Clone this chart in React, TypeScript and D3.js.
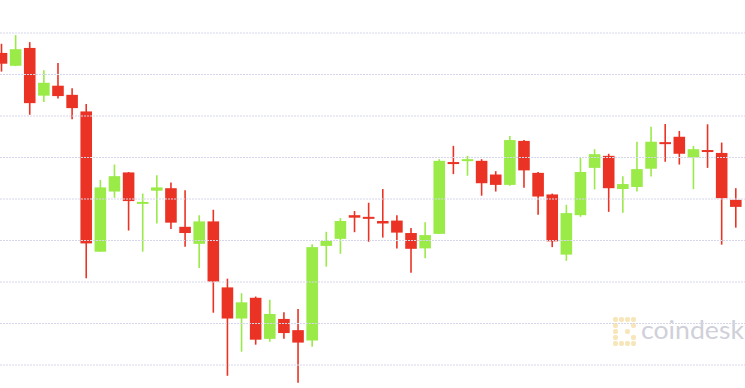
import React, { useEffect, useRef } from 'react';
import * as d3 from 'd3';

const opens = [9452, 9421, 9464, 9349, 9373, 9351, 9311, 8973, 9118, 9164, 9089, 9120, 9126, 9033, 8992, 9046, 8887, 8812, 8862, 8763, 8811, 8784, 8759, 8987, 9004, 9061, 9057, 9047, 9048, 9018, 8981, 9016, 9189, 9192, 9192, 9159, 9134, 9240, 9163, 9111, 8966, 9061, 9175, 9204, 9124, 9129, 9173, 9237, 9250, 9200, 9218, 9211, 9098];
const highs = [9474, 9495, 9478, 9410, 9428, 9367, 9329, 9146, 9183, 9165, 9113, 9157, 9140, 9121, 9061, 9074, 8908, 8873, 8865, 8857, 8827, 8835, 8991, 9021, 9054, 9071, 9091, 9124, 9061, 9030, 9044, 9196, 9228, 9204, 9196, 9167, 9252, 9242, 9165, 9113, 9086, 9199, 9220, 9209, 9155, 9238, 9274, 9281, 9264, 9228, 9280, 9236, 9126];
const lows = [9407, 9420, 9303, 9334, 9342, 9292, 8909, 8973, 9103, 9024, 8973, 9041, 9028, 8985, 8934, 8826, 8674, 8732, 8749, 8756, 8763, 8657, 8744, 8937, 8968, 9020, 8997, 9007, 8981, 8922, 8957, 9016, 9160, 9156, 9108, 9118, 9132, 9127, 9062, 8984, 8951, 9057, 9123, 9069, 9067, 9118, 9154, 9190, 9183, 9124, 9175, 8990, 9031];
const closes = [9426, 9461, 9331, 9380, 9348, 9319, 8993, 9128, 9155, 9095, 9093, 9128, 9043, 9018, 9046, 8901, 8812, 8851, 8761, 8823, 8777, 8754, 8984, 8999, 9047, 9055, 9054, 9041, 9019, 8980, 9013, 9192, 9187, 9196, 9138, 9134, 9242, 9169, 9106, 8998, 9066, 9165, 9208, 9126, 9136, 9172, 9238, 9236, 9209, 9220, 9216, 9102, 9081];
const gridValues = [8700, 8800, 8900, 9000, 9100, 9200, 9300, 9400, 9500];
const watermark = 'coindesk';

const W = 745;
const H = 388;
const UP = '#9aea48';
const DOWN = '#ea3324';
const GRID = '#d6d6ea';

export default function App() {
  const ref = useRef<SVGSVGElement>(null);

  useEffect(() => {
    document.body.style.margin = '0';
    const svg = d3.select(ref.current);
    svg.selectAll('*').remove();

    const idx = d3.range(opens.length);
    const x = d3
      .scaleBand<number>()
      .domain(idx)
      .range([-5.56, 742.86])
      .paddingInner(0.18)
      .paddingOuter(0.09);
    const y = d3.scaleLinear().domain([8700, 9500]).range([365, 33]);
    const bw = x.bandwidth();

    // watermark logo
    const logo = svg.append('g').attr('transform', 'translate(613,317)').attr('fill', '#f7e6b9');
    const dots: [number, number][] = [
      [0, 0], [6, 0], [12, 0], [18, 0],
      [0, 6], [0, 12], [0, 18],
      [0, 24], [6, 24], [12, 24], [18, 24],
      [18, 6], [18, 18], [12, 12],
    ];
    logo
      .selectAll('rect')
      .data(dots)
      .join('rect')
      .attr('x', (d) => d[0])
      .attr('y', (d) => d[1])
      .attr('width', 5)
      .attr('height', 5)
      .attr('rx', 2);
    svg
      .append('text')
      .attr('x', 641)
      .attr('y', 339)
      .attr('font-family', 'Lato, "Open Sans", sans-serif')
      .attr('font-size', 25)
      .attr('textLength', 103)
      .attr('lengthAdjust', 'spacingAndGlyphs')
      .attr('fill', '#cfd0d9')
      .text(watermark);

    const g = svg.append('g');
    const candles = g
      .selectAll('g.c')
      .data(idx)
      .join('g')
      .attr('class', 'c');

    candles
      .append('line')
      .attr('x1', (i) => (x(i) as number) + bw / 2)
      .attr('x2', (i) => (x(i) as number) + bw / 2)
      .attr('y1', (i) => y(highs[i]))
      .attr('y2', (i) => y(lows[i]))
      .attr('stroke', (i) => (closes[i] >= opens[i] ? UP : DOWN))
      .attr('stroke-width', 1.6);

    candles
      .append('rect')
      .attr('x', (i) => x(i) as number)
      .attr('width', bw)
      .attr('y', (i) => y(Math.max(opens[i], closes[i])))
      .attr('height', (i) => Math.max(2, Math.abs(y(opens[i]) - y(closes[i]))))
      .attr('fill', (i) => (closes[i] >= opens[i] ? UP : DOWN));

    // gridlines on top
    svg
      .append('g')
      .selectAll('line')
      .data(gridValues)
      .join('line')
      .attr('x1', 0)
      .attr('x2', W)
      .attr('y1', (d) => y(d))
      .attr('y2', (d) => y(d))
      .attr('stroke', GRID)
      .attr('stroke-width', 1)
      .attr('stroke-dasharray', '2,1');
  }, []);

  return <svg ref={ref} width={W} height={H} style={{ display: 'block', background: '#fff' }} />;
}
